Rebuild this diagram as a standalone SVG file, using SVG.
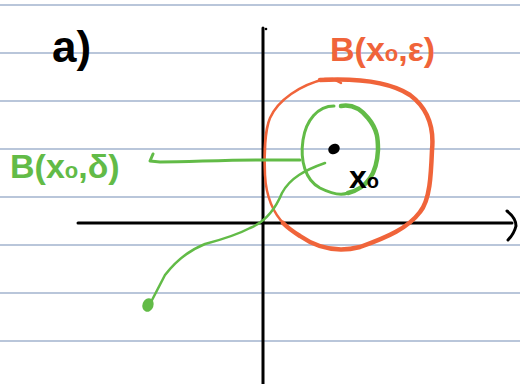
<svg xmlns="http://www.w3.org/2000/svg" width="520" height="384" viewBox="0 0 520 384">
<style>
.rule{stroke:#b9c6da;stroke-width:2}
.ax{stroke:#000;stroke-width:3;fill:none;stroke-linecap:round}
.or{stroke:#f0643a;fill:none;stroke-linecap:round;stroke-linejoin:round}
.gr{stroke:#62bb47;fill:none;stroke-linecap:round;stroke-linejoin:round}
.lbl{font-family:"Liberation Sans",Arial,sans-serif;font-weight:bold}
</style>
<rect width="520" height="384" fill="#fff"/>
<g id="rules">
<line class="rule" x1="0" y1="5" x2="520" y2="5"/>
<line class="rule" x1="0" y1="53" x2="520" y2="53"/>
<line class="rule" x1="0" y1="101" x2="520" y2="101"/>
<line class="rule" x1="0" y1="149" x2="520" y2="149"/>
<line class="rule" x1="0" y1="197" x2="520" y2="197"/>
<line class="rule" x1="0" y1="245" x2="520" y2="245"/>
<line class="rule" x1="0" y1="293" x2="520" y2="293"/>
<line class="rule" x1="0" y1="341" x2="520" y2="341"/>
</g>
<g id="axes">
<line class="ax" x1="263" y1="28" x2="263" y2="384"/>
<circle cx="266" cy="29" r="1.3" fill="#000"/>
<line class="ax" x1="78" y1="223" x2="512" y2="223"/>
<path class="ax" d="M507 211 Q516 218 516 226 Q514 234 508 240" stroke-width="3.5"/>
</g>
<g id="ball-eps">
<path class="or" stroke-width="2.5" d="M285 225 C272 212 266 195 265 175 C264 155 265 130 270 118 C278 100 300 85 325 79 L333 79 L341 83"/>
<path class="or" stroke-width="4.5" d="M320 80 C360 78 390 82 410 95 C430 110 434 130 432 150 C431 175 430 200 420 212 C408 228 388 237 360 247 C340 252 320 250 300 236 C292 231 288 228 283 223"/>
<text class="lbl" x="330" y="61" font-size="34" fill="#f0643a">B(x<tspan font-size="22">o</tspan>,ε)</text>
</g>
<g id="ball-delta">
<path class="gr" stroke-width="3" d="M334 106 C318 106 306 120 303 140 C300 160 305 180 320 188 C330 193 340 196 348 193"/>
<path class="gr" stroke-width="4.5" d="M341 106 C352 104 360 108 368 118 C378 130 378 140 378 150 C377 172 368 188 348 193"/>
<text class="lbl" x="10" y="178" font-size="34" fill="#62bb47">B(x<tspan font-size="22">o</tspan>,δ)</text>
</g>
<g id="x0">
<ellipse cx="334" cy="149" rx="6" ry="5" fill="#000" transform="rotate(-30 334 149)"/>
<text class="lbl" x="349" y="188" font-size="32" fill="#000">x<tspan font-size="20">o</tspan></text>
</g>
<g id="connectors">
<path class="gr" stroke-width="3" d="M300 160 L260 160 C220 160 190 162 160 162 L150 161 L153 154"/>
<path class="gr" stroke-width="2.5" d="M325 163 C305 170 290 178 282 193 C275 210 265 222 250 228 C235 236 220 240 205 244 C190 250 175 262 165 275 L151 302"/>
<ellipse cx="148" cy="305" rx="5.5" ry="7" fill="#62bb47" transform="rotate(20 148 305)"/>
</g>
<g id="label-a">
<text class="lbl" x="52" y="62" font-size="44" fill="#000">a)</text>
</g>
</svg>
